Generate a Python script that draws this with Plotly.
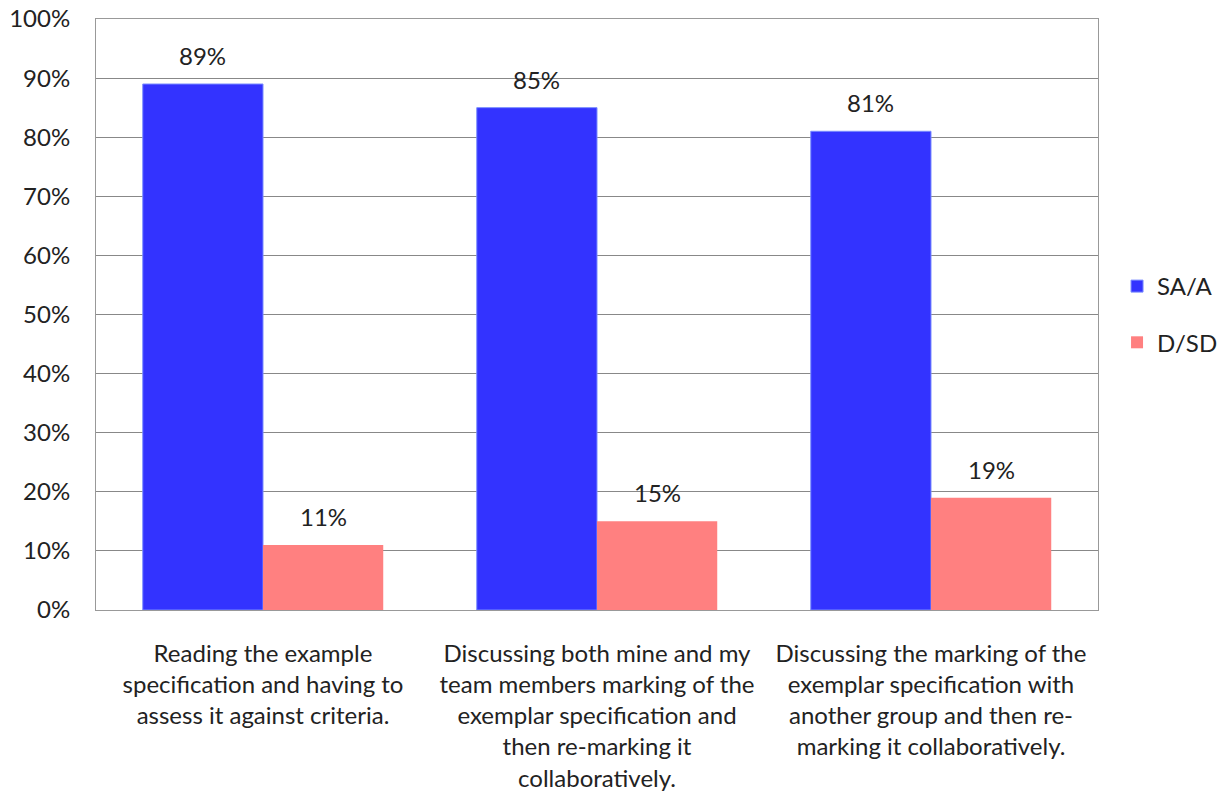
import plotly.graph_objects as go

categories = [
    "Reading the example<br>specification and having to<br>assess it against criteria.",
    "Discussing both mine and my<br>team members marking of the<br>exemplar specification and<br>then re-marking it<br>collaboratively.",
    "Discussing the marking of the<br>exemplar specification with<br>another group and then re-<br>marking it collaboratively.",
]
sa_a = [0.89, 0.85, 0.81]
d_sd = [0.11, 0.15, 0.19]

font_family = "Lato, 'Open Sans', sans-serif"
W, H = 1227, 798
ML, MR, MT, MB = 96, 129, 19, 188
BARGAP = 0.28

fig = go.Figure()
fig.add_trace(go.Bar(
    name="SA/A", x=categories, y=sa_a,
    marker=dict(color="#3333FF", line=dict(color="#7A8CFF", width=1)),
    legendgroup="a",
))
fig.add_trace(go.Bar(
    name="D/SD", x=categories, y=d_sd,
    marker=dict(color="#FF8080", line=dict(width=0)),
    legendgroup="b",
))

# value labels above each bar (positioned via data coordinates)
plot_w = W - ML - MR
bar_px = plot_w / len(categories) * (1 - BARGAP) / 2
for vals, sign in ((sa_a, -1), (d_sd, 1)):
    for c, v in zip(categories, vals):
        fig.add_annotation(x=c, y=v, xref="x", yref="y", text=f"{v:.0%}",
                           showarrow=False, yanchor="bottom", yshift=12,
                           xshift=sign * bar_px / 2,
                           font=dict(size=24, color="#222222"))

fig.update_layout(
    width=W, height=H,
    margin=dict(l=ML, r=MR, t=MT, b=MB, autoexpand=False),
    paper_bgcolor="white", plot_bgcolor="white",
    font=dict(family=font_family, size=24, color="#222222"),
    barmode="group", bargap=BARGAP, bargroupgap=0,
    legend=dict(x=1.019, y=0.5, xanchor="left", yanchor="middle",
                font=dict(size=24), tracegroupgap=22, itemwidth=30),
    showlegend=True,
)
fig.update_xaxes(showgrid=False, showline=True, linecolor="#999999", linewidth=1,
                 mirror=True, ticks="", tickfont=dict(size=24), tickangle=0,
                 ticklabelstandoff=22, automargin=False)
fig.update_yaxes(range=[0, 1], dtick=0.1, tickformat=".0%",
                 showgrid=True, gridcolor="#888888", gridwidth=1,
                 showline=True, linecolor="#999999", linewidth=1, mirror=True,
                 ticks="", ticklabelstandoff=20, tickfont=dict(size=24),
                 zeroline=False, automargin=False)

fig.write_html("out.html")
